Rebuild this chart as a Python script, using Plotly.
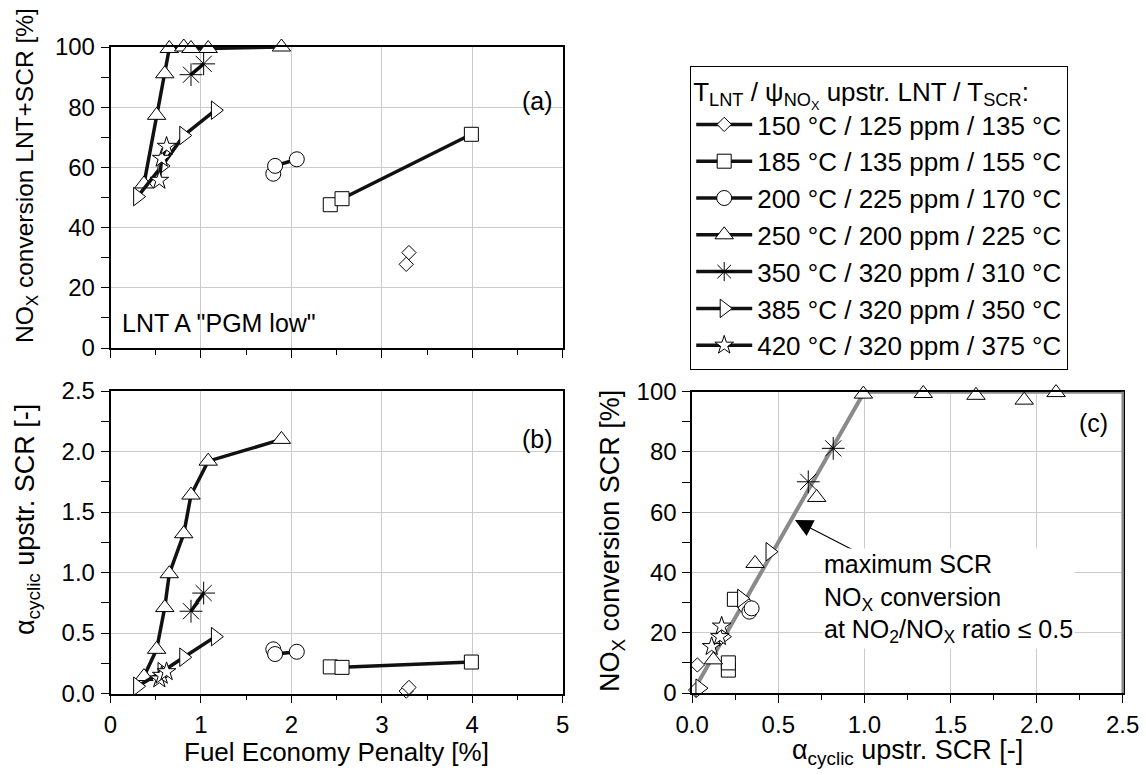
import plotly.graph_objects as go

# ---------------- data ----------------
series_names = ["150 °C / 125 ppm / 135 °C", "185 °C / 135 ppm / 155 °C",
                "200 °C / 225 ppm / 170 °C", "250 °C / 200 ppm / 225 °C",
                "350 °C / 320 ppm / 310 °C", "385 °C / 320 ppm / 350 °C",
                "420 °C / 320 ppm / 375 °C"]
symbols = ["diamond", "square", "circle", "triangle-up", "asterisk-open",
           "triangle-right", "star"]
sizes = [11, 14, 15, 16, 19, 16, 14]
fills = ["white", "white", "white", "white", "black", "white", "white"]

# panel (a)/(b): fuel economy penalty [%]
fep = [
    [3.27, 3.30],
    [2.43, 2.56, 3.99],
    [1.80, 1.82, 2.06],
    [0.37, 0.51, 0.60, 0.65, 0.81, 0.89, 1.08, 1.89],
    [0.89, 1.03],
    [0.30, 0.57, 0.81, 1.16],
    [0.54, 0.566, 0.62],
]
# panel (a): NOx conversion LNT+SCR [%]
conv_total = [
    [27.8, 31.7],
    [47.6, 49.6, 71.0],
    [57.9, 60.5, 62.7],
    [54.5, 77.3, 91.1, 99.5, 100.0, 99.5, 99.5, 100.0],
    [90.8, 94.4],
    [50.3, 60.5, 70.6, 79.0],
    [55.7, 63.0, 67.0],
]
# panel (b): alpha cyclic upstream SCR [-]
alpha_b = [
    [0.02, 0.05],
    [0.22, 0.216, 0.26],
    [0.365, 0.326, 0.345],
    [0.14, 0.365, 0.71, 0.99, 1.32, 1.64, 1.92, 2.10],
    [0.68, 0.83],
    [0.06, 0.18, 0.30, 0.47],
    [0.12, 0.15, 0.18],
]
# panel (c): alpha cyclic vs NOx conversion SCR [%]
alpha_c = [
    [0.02, 0.03],
    [0.21, 0.21, 0.245],
    [0.31, 0.332, 0.345],
    [0.123, 0.365, 0.723, 0.994, 1.342, 1.648, 1.928, 2.113],
    [0.674, 0.819],
    [0.045, 0.181, 0.287, 0.452],
    [0.113, 0.161, 0.171],
]
conv_scr = [
    [1.0, 9.3],
    [7.6, 10.0, 31.1],
    [29.0, 27.0, 28.1],
    [11.0, 43.0, 64.9, 99.2, 99.4, 98.8, 97.2, 99.7],
    [70.1, 81.2],
    [1.6, 18.7, 31.4, 46.9],
    [15.4, 18.7, 22.2],
]
# maximum SCR conversion at NO2/NOx <= 0.5
max_alpha = [0.0, 1.0, 2.5]
max_conv = [0.0, 100.0, 100.0]

# ---------------- figure ----------------
FONT = "Liberation Sans, Arial, sans-serif"
W, H = 1146, 775
fig = go.Figure()

def mk(i):
    return dict(symbol=symbols[i], size=sizes[i], color=fills[i],
                line=dict(color="black", width=1))

for i, name in enumerate(series_names):
    fig.add_trace(go.Scatter(x=fep[i], y=conv_total[i], mode="lines+markers",
                             name=name, line=dict(color="#111", width=3.5),
                             marker=mk(i), xaxis="x", yaxis="y",
                             cliponaxis=False, showlegend=True))
for i, name in enumerate(series_names):
    fig.add_trace(go.Scatter(x=fep[i], y=alpha_b[i], mode="lines+markers",
                             name=name, line=dict(color="#111", width=3.5),
                             marker=mk(i), xaxis="x2", yaxis="y2",
                             cliponaxis=False, showlegend=False))
fig.add_trace(go.Scatter(x=max_alpha, y=max_conv, mode="lines",
                         line=dict(color="#8a8a8a", width=4), xaxis="x3",
                         yaxis="y3", cliponaxis=False, showlegend=False))
for i, name in enumerate(series_names):
    fig.add_trace(go.Scatter(x=alpha_c[i], y=conv_scr[i], mode="markers",
                             name=name, marker=mk(i), xaxis="x3", yaxis="y3",
                             cliponaxis=False, showlegend=False))

def px_x(a, b):
    return [a / W, b / W]

def px_y(top, bottom):
    return [1 - bottom / H, 1 - top / H]

common = dict(showline=True, linecolor="black", linewidth=1.5, mirror=True,
              ticks="outside", ticklen=8, tickcolor="black", tickwidth=1,
              gridcolor="#cccccc", gridwidth=1.2, zeroline=False,
              tickfont=dict(family=FONT, size=24, color="black"),
              ticklabelstandoff=1)

dom_ab_x = px_x(110.5, 562.7)
dom_c_x = px_x(692.2, 1122.7)
fig.update_layout(
    width=W, height=H,
    margin=dict(l=0, r=0, t=0, b=0, pad=0, autoexpand=False),
    paper_bgcolor="white", plot_bgcolor="white",
    font=dict(family=FONT, color="black"),
    xaxis=dict(domain=dom_ab_x, anchor="y", range=[0, 5], dtick=1,
               showticklabels=False,
               minor=dict(dtick=0.5, ticklen=5, ticks="outside",
                          tickcolor="black", showgrid=False), **common),
    yaxis=dict(domain=px_y(47, 348), anchor="x", range=[0, 100], dtick=20,
               minor=dict(dtick=10, ticklen=8, ticks="outside",
                          tickcolor="black", showgrid=False), **common),
    xaxis2=dict(domain=dom_ab_x, anchor="y2", range=[0, 5], dtick=1,
                minor=dict(dtick=0.5, ticklen=5, ticks="outside",
                           tickcolor="black", showgrid=False), **common),
    yaxis2=dict(domain=px_y(391, 693.5), anchor="x2", range=[0, 2.5],
                dtick=0.5, tickformat=".1f",
                minor=dict(dtick=0.25, ticklen=8, ticks="outside",
                           tickcolor="black", showgrid=False), **common),
    xaxis3=dict(domain=dom_c_x, anchor="y3", range=[0, 2.5], dtick=0.5,
                tickformat=".1f",
                minor=dict(dtick=0.25, ticklen=5, ticks="outside",
                           tickcolor="black", showgrid=False), **common),
    yaxis3=dict(domain=px_y(391.7, 693), anchor="x3", range=[0, 100],
                dtick=20,
                minor=dict(dtick=10, ticklen=8, ticks="outside",
                           tickcolor="black", showgrid=False), **common),
    legend=dict(x=690 / W, y=1 - 66 / H, xanchor="left", yanchor="top",
                bgcolor="white", bordercolor="black", borderwidth=1.2,
                font=dict(family=FONT, size=26, color="black"),
                tracegroupgap=0, itemwidth=56,
                title=dict(text="T<sub>LNT</sub> / ψ<sub>NO<sub>X</sub></sub> upstr. LNT / T<sub>SCR</sub>:",
                           font=dict(family=FONT, size=26, color="black"))),
)

# gray right border of panel (c)
fig.add_shape(type="line", xref="x3 domain", yref="y3 domain", x0=1, x1=1,
              y0=0, y1=1, line=dict(color="#8a8a8a", width=2.5))

ann = []
def txt(x, y, text, size, **kw):
    d = dict(x=x / W, y=1 - y / H, xref="paper", yref="paper", text=text,
             xanchor="center", yanchor="middle", showarrow=False,
             font=dict(family=FONT, size=size, color="black"))
    d.update(kw)
    ann.append(d)

txt(537, 101, "(a)", 25)
txt(537, 439, "(b)", 25)
txt(1093, 423, "(c)", 25)
txt(120, 323, 'LNT A "PGM low"', 25, xanchor="left")
txt(336, 752, "Fuel Economy Penalty [%]", 26)
txt(907, 752, "α<sub>cyclic</sub> upstr. SCR [-]", 27)
txt(27, 176, "NO<sub>X</sub> conversion LNT+SCR [%]", 24.5, textangle=-90)
txt(27, 520, "α<sub>cyclic</sub> upstr. SCR [-]", 27, textangle=-90)
txt(612, 541, "NO<sub>X</sub> conversion SCR [%]", 27, textangle=-90)

ann.append(dict(x=0.597, y=57.4, ax=0.957, ay=46.8, xref="x3", yref="y3",
                axref="x3", ayref="y3", text="", showarrow=True,
                arrowhead=2, arrowsize=3.2, arrowwidth=1.1, arrowcolor="black"))
ann.append(dict(x=0.754, y=31.5, xref="x3", yref="y3", xanchor="left",
                yanchor="middle", align="left", showarrow=False,
                bgcolor="white",
                text="maximum SCR<br>NO<sub>X</sub> conversion<br>at NO<sub>2</sub>/NO<sub>X</sub> ratio ≤ 0.5",
                font=dict(family=FONT, size=25, color="black")))
fig.update_layout(annotations=ann)

fig.write_html("out.html")
